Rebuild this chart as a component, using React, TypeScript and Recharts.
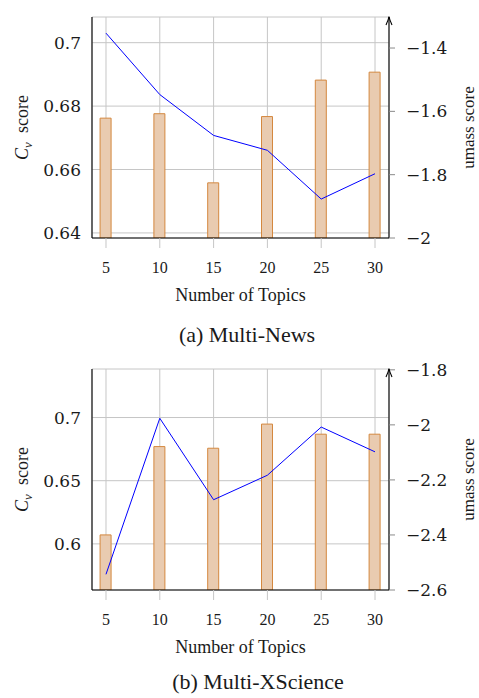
import React from 'react';
import { ComposedChart, Bar, Line, XAxis, YAxis, CartesianGrid } from 'recharts';

const topics = [5, 10, 15, 20, 25, 30];
const newsCv = [0.6762, 0.6776, 0.6558, 0.6767, 0.6882, 0.6907];
const newsUmass = [-1.353, -1.547, -1.676, -1.723, -1.877, -1.797];
const xsciCv = [0.6071, 0.677, 0.6757, 0.6948, 0.6868, 0.6868];
const xsciUmass = [-2.543, -1.976, -2.272, -2.183, -2.008, -2.098];
const newsCvTicks = [0.64, 0.66, 0.68, 0.7];
const newsUmassTicks = [-2, -1.8, -1.6, -1.4];
const xsciCvTicks = [0.6, 0.65, 0.7];
const xsciUmassTicks = [-2.6, -2.4, -2.2, -2, -1.8];
const xDomain = [3.7, 31.3];

const GRID = '#c6c6c6';
const TXT = '#1a1a1a';
const SERIF = 'Liberation Serif';
const NUMF = 'DejaVu Serif';

const fmt = (v: number) => String(v).replace('-', '\u2212');

type PanelProps = {
  cv: number[];
  umass: number[];
  cvTicks: number[];
  umassTicks: number[];
  cvDomain: number[];
  umassDomain: number[];
  caption: string;
  captionX: number;
  captionDy: number;
  top: number;
  height: number;
  marginTop: number;
  xAxisHeight: number;
};

function Panel(p: PanelProps) {
  const data = topics.map((t, i) => ({ topic: t, cv: p.cv[i], umass: p.umass[i] }));

  const xLabel = (props: any) => {
    const vb = props.viewBox || {};
    const cx = vb.x + vb.width / 2;
    const y0 = vb.y;
    return (
      <g>
        <text x={cx} y={y0 + 62.5} textAnchor="middle" style={{ fontFamily: SERIF }} fontSize={18} fill={TXT}>
          Number of Topics
        </text>
        <text x={p.captionX} y={y0 + p.captionDy} textAnchor="middle" style={{ fontFamily: SERIF }} fontSize={22} fill={TXT}>
          {p.caption}
        </text>
      </g>
    );
  };

  const leftLabel = (props: any) => {
    const vb = props.viewBox || {};
    const cy = vb.y + vb.height / 2;
    return (
      <text
        x={0}
        y={0}
        transform={`translate(28, ${cy}) rotate(-90)`}
        textAnchor="middle"
        style={{ fontFamily: SERIF }}
        fontSize={18}
        fill={TXT}
      >
        <tspan fontStyle="italic">C</tspan>
        <tspan fontStyle="italic" fontSize={13} dy={4}>v</tspan>
        <tspan dy={-4}>{'\u2002score'}</tspan>
      </text>
    );
  };

  const rightLabel = (props: any) => {
    const vb = props.viewBox || {};
    const ax = vb.x;
    const ay = vb.y;
    const cy = vb.y + vb.height / 2;
    return (
      <g>
        <path
          d={`M ${ax - 3} ${ay + 8} Q ${ax - 0.6} ${ay + 3} ${ax} ${ay - 0.5} Q ${ax + 0.6} ${ay + 3} ${ax + 3} ${ay + 8}`}
          stroke="#000"
          strokeWidth={1.1}
          fill="none"
        />
        <text
          x={0}
          y={0}
          transform={`translate(474, ${cy}) rotate(-90)`}
          textAnchor="middle"
          style={{ fontFamily: SERIF }}
          fontSize={17}
          fill={TXT}
        >
          umass score
        </text>
      </g>
    );
  };

  return (
    <div style={{ position: 'absolute', left: 0, top: p.top }}>
      <ComposedChart width={479} height={p.height} data={data} margin={{ top: p.marginTop, right: 0, left: 0, bottom: 0 }}>
        <CartesianGrid xAxisId="bottom" yAxisId="left" stroke={GRID} strokeWidth={1} />
        <XAxis
          xAxisId="bottom"
          dataKey="topic"
          type="number"
          domain={xDomain}
          ticks={topics}
          interval={0}
          height={p.xAxisHeight}
          tickSize={10}
          tickMargin={14}
          tickLine={{ stroke: GRID }}
          axisLine={{ stroke: '#000', strokeWidth: 1.1 }}
          tick={{ fontSize: 16, fill: TXT, style: { fontFamily: SERIF } }}
          label={xLabel}
          allowDataOverflow
        />
        <XAxis
          xAxisId="top"
          orientation="top"
          dataKey="topic"
          type="number"
          domain={xDomain}
          ticks={topics}
          interval={0}
          height={0}
          tickSize={11}
          tick={false}
          tickLine={{ stroke: GRID }}
          axisLine={{ stroke: '#000', strokeWidth: 1.1 }}
          allowDataOverflow
        />
        <YAxis
          yAxisId="left"
          orientation="left"
          width={92}
          domain={p.cvDomain}
          ticks={p.cvTicks}
          interval={0}
          tickSize={0}
          tickMargin={11}
          tickLine={false}
          axisLine={{ stroke: '#000', strokeWidth: 1.1 }}
          tick={{ fontSize: 17, fill: TXT, style: { fontFamily: NUMF } }}
          tickFormatter={fmt}
          label={leftLabel}
          allowDataOverflow
        />
        <YAxis
          yAxisId="right"
          orientation="right"
          width={90}
          domain={p.umassDomain}
          ticks={p.umassTicks}
          interval={0}
          tickSize={6}
          tickMargin={11}
          tickLine={{ stroke: '#8a8a8a' }}
          axisLine={{ stroke: '#000', strokeWidth: 1.1 }}
          tick={{ fontSize: 17, fill: TXT, style: { fontFamily: NUMF } }}
          tickFormatter={fmt}
          label={rightLabel}
          allowDataOverflow
        />
        <YAxis
          yAxisId="rightInner"
          orientation="right"
          mirror
          width={0}
          domain={p.umassDomain}
          ticks={p.umassTicks}
          interval={0}
          tickSize={6}
          tick={false}
          tickLine={{ stroke: '#8a8a8a' }}
          axisLine={false}
          allowDataOverflow
        />
        <Bar
          xAxisId="bottom"
          yAxisId="left"
          dataKey="cv"
          barSize={11}
          fill="#e9cbb0"
          stroke="#d4883f"
          strokeWidth={1}
          isAnimationActive={false}
        />
        <Line
          xAxisId="bottom"
          yAxisId="right"
          dataKey="umass"
          stroke="#0000ff"
          strokeWidth={1}
          dot={false}
          isAnimationActive={false}
        />
      </ComposedChart>
    </div>
  );
}

export default function App() {
  return (
    <div style={{ position: 'absolute', left: 0, top: 0, width: 479, height: 698, background: '#fff' }}>
      <Panel
        cv={newsCv}
        umass={newsUmass}
        cvTicks={newsCvTicks}
        umassTicks={newsUmassTicks}
        cvDomain={[0.6384, 0.7081]}
        umassDomain={[-2.0, -1.302]}
        caption="(a) Multi-News"
        captionX={247}
        captionDy={103.7}
        top={0}
        height={350}
        marginTop={17}
        xAxisHeight={112}
      />
      <Panel
        cv={xsciCv}
        umass={xsciUmass}
        cvTicks={xsciCvTicks}
        umassTicks={xsciUmassTicks}
        cvDomain={[0.5635, 0.7384]}
        umassDomain={[-2.6, -1.797]}
        caption="(b) Multi-XScience"
        captionX={258}
        captionDy={99}
        top={350}
        height={348}
        marginTop={19}
        xAxisHeight={108}
      />
    </div>
  );
}
